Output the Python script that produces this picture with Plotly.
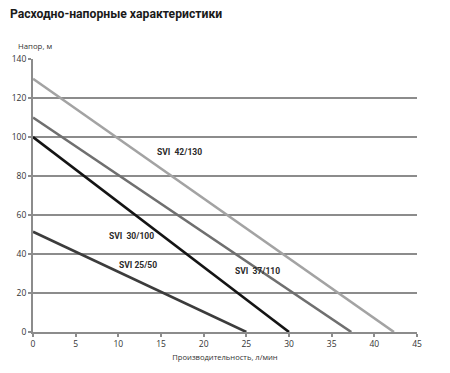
import plotly.graph_objects as go

# Data (flow l/min, head m)
models = ["SVI  42/130", "SVI  37/110", "SVI  30/100", "SVI 25/50"]
flow_42 = [0, 42.3]
head_42 = [129.9, 0]
flow_37 = [0, 37.3]
head_37 = [110, 0]
flow_30 = [0, 30]
head_30 = [100, 0]
flow_25 = [0, 25]
head_25 = [51.4, 0]
colors = ["#a3a3a3", "#6f6f6f", "#141414", "#3c3c3c"]

label_x = [17.2, 26.3, 11.5, 12.25]
label_y = [92.3, 31.3, 49.0, 34.2]

x_ticks = [0, 5, 10, 15, 20, 25, 30, 35, 40, 45]
y_ticks = [0, 20, 40, 60, 80, 100, 120, 140]

fig = go.Figure()
for fx, hy, c, name in zip([flow_42, flow_37, flow_30, flow_25],
                           [head_42, head_37, head_30, head_25], colors, models):
    fig.add_trace(go.Scatter(x=fx, y=hy, mode="lines", name=name,
                             line=dict(color=c, width=2.6), showlegend=False,
                             hoverinfo="skip"))

for name, lx, ly in zip(models, label_x, label_y):
    fig.add_annotation(x=lx, y=ly, text="<b>" + name + "</b>", showarrow=False,
                       font=dict(family="Roboto", size=8.5, color="#2a2a2a"),
                       xanchor="center", yanchor="middle")

grid_c = "#8c8c8c"
fig.update_layout(
    width=450, height=373,
    margin=dict(l=33, r=33, t=59, b=41),
    paper_bgcolor="white", plot_bgcolor="white",
    font=dict(family="Open Sans", size=8.5, color="#333"),
    title=dict(text="<b>Расходно-напорные характеристики</b>", x=0.022, xanchor="left",
               y=0.962, yanchor="middle",
               font=dict(family="Roboto", size=12.2, color="#1a1a1a")),
    xaxis=dict(range=[0, 45], tickvals=x_ticks, showgrid=False, zeroline=False,
               showline=True, linecolor=grid_c, linewidth=2,
               ticks="outside", ticklen=3, tickcolor=grid_c, tickwidth=1.5,
               tickfont=dict(size=8.5, color="#333"),
               title=dict(text="Производительность, л/мин", standoff=6,
                          font=dict(size=7.6, color="#333"))),
    yaxis=dict(range=[0, 140], tickvals=y_ticks, showgrid=True, gridcolor=grid_c,
               gridwidth=2, zeroline=False, showline=True, linecolor=grid_c,
               linewidth=2, ticks="outside", ticklen=3, tickcolor=grid_c,
               tickwidth=1.5, tickfont=dict(size=8.5, color="#333")),
)
fig.add_annotation(xref="paper", yref="paper", x=-0.043, y=1.046, xanchor="left",
                   yanchor="middle", text="Напор, м", showarrow=False,
                   font=dict(family="Open Sans", size=7.8, color="#333"))

fig.write_html("out.html")
